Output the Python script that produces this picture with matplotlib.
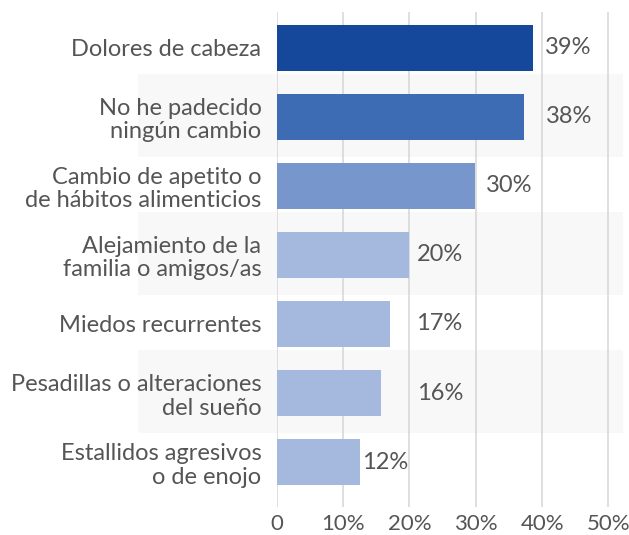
import matplotlib
matplotlib.use("Agg")
import matplotlib.pyplot as plt

categories = [
    "Dolores de cabeza",
    "No he padecido\nningún cambio",
    "Cambio de apetito o\nde hábitos alimenticios",
    "Alejamiento de la\nfamilia o amigos/as",
    "Miedos recurrentes",
    "Pesadillas o alteraciones\ndel sueño",
    "Estallidos agresivos\no de enojo",
]
values = [38.6, 37.3, 29.9, 19.9, 17.1, 15.7, 12.5]
value_labels = ["39%", "38%", "30%", "20%", "17%", "16%", "12%"]
x_ticks = [0, 10, 20, 30, 40, 50]
x_tick_labels = ["0", "10%", "20%", "30%", "40%", "50%"]

bar_colors = ["#15489a", "#3e6cb4", "#7796cb", "#a4b9dd", "#a4b9dd", "#a4b9dd", "#a4b9dd"]
label_offsets_px = [12, 22, 11, 8, 26, 36, 2]
text_color = "#555555"
font = "Lato"

plt.rcParams["font.family"] = [font, "DejaVu Sans"]

fig = plt.figure(figsize=(6.29, 5.35), dpi=100)
ax = fig.add_axes([0.4399, 0.0523, 0.9905 - 0.4399, 0.9781 - 0.0523])

ypos = list(range(len(categories)))

# alternating background bands
for i in ypos:
    if i % 2 == 1:
        ax.axhspan(i - 0.62, i + 0.58, xmin=-0.40, xmax=1.0, color="#f8f8f8",
                   zorder=0, clip_on=False, lw=0)

ax.barh(ypos, values, height=0.665, color=bar_colors, zorder=3)

for i, (v, lab) in enumerate(zip(values, value_labels)):
    ax.annotate(lab, xy=(v, i), xytext=(label_offsets_px[i] * 0.72, 0),
                textcoords="offset points", va="center", ha="left",
                fontsize=17, color=text_color, zorder=4)

ax.set_xlim(0, 52.2)
ax.set_ylim(6.65, -0.52)
ax.set_xticks(x_ticks)
ax.set_xticklabels(x_tick_labels, fontsize=16, color=text_color)
ax.set_yticks(ypos)
ax.set_yticklabels(categories, fontsize=17, color=text_color, linespacing=1.15)
ax.tick_params(axis="both", length=0)
ax.tick_params(axis="y", pad=11)
ax.tick_params(axis="x", pad=5)
ax.grid(axis="x", color="#d6d6d6", lw=1.1, zorder=1)
ax.set_axisbelow(True)
for s in ax.spines.values():
    s.set_visible(False)
ax.patch.set_alpha(0)

fig.savefig("out.png", dpi=100)
